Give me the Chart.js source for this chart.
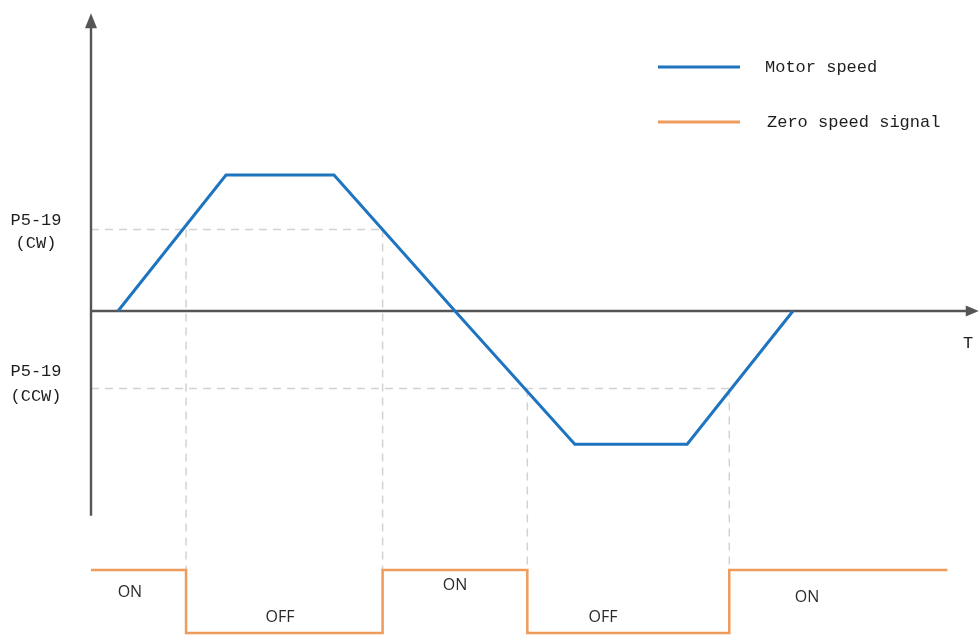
<!DOCTYPE html>
<html>
<head>
<meta charset="utf-8">
<title>Zero speed signal timing</title>
<script src="https://cdn.jsdelivr.net/npm/chart.js@4.4.1/dist/chart.umd.min.js"></script>
<style>
  html, body { margin: 0; padding: 0; background: #ffffff; }
  #wrap { width: 979px; height: 635px; }
</style>
</head>
<body>
<div id="wrap"><canvas id="chart" width="979" height="635"></canvas></div>
<script>
// Motor speed profile (time in arbitrary units, speed in % of rated)
const speedTime  = [2.5, 12.5, 22.5, 33.7, 44.8, 55.2, 65.0];
const speedValue = [0, 100, 100, 0, -98, -98, 0];

// Zero-speed thresholds P5-19 in each direction
const cwThreshold  = 60;
const ccwThreshold = -57;

// Zero speed output signal: 1 = ON, 0 = OFF (value held until each time)
const signalTime  = [0, 8.8, 27.0, 40.4, 59.1, 79.3];
const signalState = [1, 0, 1, 0, 1, 1];

// State labels under the signal trace
const stateLabels     = ['ON', 'OFF', 'ON', 'OFF', 'ON'];
const stateLabelTime  = [3.6, 17.5, 33.7, 47.4, 66.3];
const stateLabelLevel = [0.65, 0.24, 0.76, 0.24, 0.57];

const seriesNames = ['Motor speed', 'Zero speed signal'];
const blue = '#1f74bf';
const orange = '#ee9b5c';
const axisColor = '#555555';
const guideColor = '#d2d2d2';
const monoFont = '17px "Liberation Mono", "DejaVu Sans Mono", monospace';

const speedPoints  = speedTime.map((t, i) => ({ x: t, y: speedValue[i] }));
const signalPoints = signalTime.map((t, i) => ({ x: t, y: signalState[i] }));

// Axes with arrow heads, dashed threshold guides and annotations
const diagramPlugin = {
  id: 'diagram',
  beforeDatasetsDraw(chart) {
    const { ctx, scales } = chart;
    const xs = scales.x, ys = scales.y, ss = scales.y2;
    const x0 = xs.getPixelForValue(0);
    const yZero = ys.getPixelForValue(0);
    const yCw = ys.getPixelForValue(cwThreshold);
    const yCcw = ys.getPixelForValue(ccwThreshold);
    const yOn = ss.getPixelForValue(1);

    ctx.save();
    // dashed guides
    ctx.strokeStyle = guideColor;
    ctx.lineWidth = 1.5;
    ctx.setLineDash([8, 6]);
    const sw = signalTime.slice(1, 5).map(t => xs.getPixelForValue(t));
    ctx.beginPath();
    ctx.moveTo(x0, yCw); ctx.lineTo(sw[1], yCw);
    ctx.moveTo(x0, yCcw); ctx.lineTo(sw[3], yCcw);
    ctx.moveTo(sw[0], yCw); ctx.lineTo(sw[0], yOn);
    ctx.moveTo(sw[1], yCw); ctx.lineTo(sw[1], yOn);
    ctx.moveTo(sw[2], yCcw); ctx.lineTo(sw[2], yOn);
    ctx.moveTo(sw[3], yCcw); ctx.lineTo(sw[3], yOn);
    ctx.stroke();
    ctx.setLineDash([]);

    // axes
    const yTop = ys.getPixelForValue(219);
    const yBottom = ys.getPixelForValue(-150.5);
    const xEnd = xs.getPixelForValue(82.2);
    ctx.strokeStyle = axisColor;
    ctx.fillStyle = axisColor;
    ctx.lineWidth = 2.4;
    ctx.beginPath();
    ctx.moveTo(x0, yBottom); ctx.lineTo(x0, yTop + 12);
    ctx.moveTo(x0, yZero); ctx.lineTo(xEnd - 10, yZero);
    ctx.stroke();
    ctx.beginPath();
    ctx.moveTo(x0, yTop); ctx.lineTo(x0 - 6, yTop + 15); ctx.lineTo(x0 + 6, yTop + 15);
    ctx.closePath(); ctx.fill();
    ctx.beginPath();
    ctx.moveTo(xEnd, yZero); ctx.lineTo(xEnd - 13, yZero - 5.5); ctx.lineTo(xEnd - 13, yZero + 5.5);
    ctx.closePath(); ctx.fill();
    ctx.restore();
  },
  afterDatasetsDraw(chart) {
    const { ctx, scales } = chart;
    const xs = scales.x, ys = scales.y, ss = scales.y2;
    const yCw = ys.getPixelForValue(cwThreshold);
    const yCcw = ys.getPixelForValue(ccwThreshold);
    const yZero = ys.getPixelForValue(0);

    ctx.save();
    ctx.fillStyle = '#1e1e1e';
    ctx.font = monoFont;
    ctx.textAlign = 'center';
    ctx.textBaseline = 'middle';
    ctx.fillText('P5-19', 36, yCw - 9);
    ctx.fillText('(CW)', 36, yCw + 14);
    ctx.fillText('P5-19', 36, yCcw - 17);
    ctx.fillText('(CCW)', 36, yCcw + 8);
    ctx.fillText('T', 968, yZero + 33);

    // legend
    const legendRows = [67, 122];
    const legendColors = [blue, orange];
    const textX = [765, 767];
    ctx.textAlign = 'left';
    legendRows.forEach((y, i) => {
      ctx.strokeStyle = legendColors[i];
      ctx.lineWidth = 3;
      ctx.beginPath();
      ctx.moveTo(658, y); ctx.lineTo(740, y);
      ctx.stroke();
      ctx.fillStyle = '#1e1e1e';
      ctx.fillText(seriesNames[i], textX[i], y);
    });

    // signal state labels
    ctx.font = '16px "Open Sans", "Liberation Sans", sans-serif';
    ctx.fillStyle = '#2a2a2a';
    ctx.textAlign = 'center';
    stateLabels.forEach((s, i) => {
      ctx.fillText(s, xs.getPixelForValue(stateLabelTime[i]), ss.getPixelForValue(stateLabelLevel[i]));
    });
    ctx.restore();
  }
};

new Chart(document.getElementById('chart'), {
  type: 'line',
  data: {
    datasets: [
      {
        label: seriesNames[0],
        data: speedPoints,
        yAxisID: 'y',
        borderColor: blue,
        borderWidth: 3,
        borderJoinStyle: 'miter',
        pointRadius: 0,
        tension: 0,
        fill: false
      },
      {
        label: seriesNames[1],
        data: signalPoints,
        yAxisID: 'y2',
        borderColor: orange,
        borderWidth: 2.5,
        borderJoinStyle: 'miter',
        stepped: 'before',
        pointRadius: 0,
        fill: false,
        clip: 4
      }
    ]
  },
  options: {
    responsive: false,
    animation: false,
    devicePixelRatio: 1,
    layout: { padding: 0 },
    plugins: { legend: { display: false }, tooltip: { enabled: false }, title: { display: false } },
    scales: {
      x: { type: 'linear', min: -8.426, max: 82.222, display: false },
      y: { type: 'linear', min: -238.24, max: 228.68, display: false },
      y2: { type: 'linear', min: -0.0317, max: 10.048, display: false }
    }
  },
  plugins: [diagramPlugin]
});
</script>
</body>
</html>
